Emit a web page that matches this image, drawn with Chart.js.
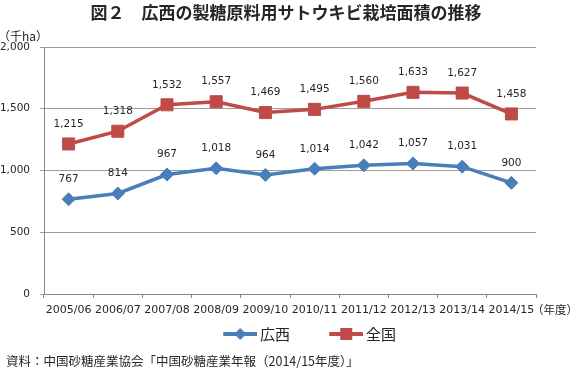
<!DOCTYPE html>
<html><head><meta charset="utf-8">
<script src="https://cdn.jsdelivr.net/npm/chart.js@4/dist/chart.umd.min.js"></script>
<style>html,body{margin:0;padding:0;background:#fff}canvas{display:block}</style>
</head><body>
<canvas id="c" width="572" height="368"></canvas>
<script>
// ---- data ----
const categories = ['2005/06','2006/07','2007/08','2008/09','2009/10','2010/11','2011/12','2012/13','2013/14','2014/15'];
const guangxi = [767, 814, 967, 1018, 964, 1014, 1042, 1057, 1031, 900];
const national = [1215, 1318, 1532, 1557, 1469, 1495, 1560, 1633, 1627, 1458];
const yTickValues = [0, 500, 1000, 1500, 2000];
const seriesNames = ['広西', '全国'];
const titleText = '図２　広西の製糖原料用サトウキビ栽培面積の推移';
const yUnitText = '（千ha）';
const xUnitText = '（年度）';
const sourceText = '資料：中国砂糖産業協会「中国砂糖産業年報（2014/15年度）」';

// ---- styles ----
const BLUE = '#4A7EBB', RED = '#BE4B48';
const AXIS = '#878787', GRID = '#9d9d9d', TEXT = '#262626';
const CJK = "'Noto Sans CJK JP', 'Noto Sans', sans-serif";
const NUM = "'DejaVu Sans', sans-serif";

function legendImage(color, shape) {
  const W = 78, H = 14;
  const c = document.createElement('canvas');
  c.width = W; c.height = H;
  const g = c.getContext('2d');
  const x0 = W - 34, cy = H / 2;
  g.strokeStyle = color; g.lineWidth = 4;
  g.beginPath(); g.moveTo(x0, cy); g.lineTo(W, cy); g.stroke();
  g.fillStyle = color;
  const cx = x0 + 17;
  if (shape === 'diamond') {
    g.beginPath(); g.moveTo(cx, cy - 6); g.lineTo(cx + 6, cy); g.lineTo(cx, cy + 6); g.lineTo(cx - 6, cy); g.closePath(); g.fill();
  } else {
    g.fillRect(cx - 6, cy - 6, 12, 12);
  }
  return c;
}
const legendImgs = [legendImage(BLUE, 'diamond'), legendImage(RED, 'square')];

const fmt = v => v.toLocaleString('en-US');

const extras = {
  id: 'extras',
  afterDatasetsDraw(chart) {
    const ctx = chart.ctx;
    ctx.save();
    ctx.font = '10.5px ' + NUM;
    ctx.fillStyle = TEXT;
    ctx.textAlign = 'center';
    ctx.textBaseline = 'middle';
    chart.data.datasets.forEach((ds, i) => {
      const meta = chart.getDatasetMeta(i);
      meta.data.forEach((pt, j) => {
        ctx.fillText(fmt(ds.data[j]), pt.x, pt.y - 20);
      });
    });
    ctx.restore();
  },
  afterDraw(chart) {
    const ctx = chart.ctx;
    ctx.save();
    ctx.fillStyle = TEXT;
    ctx.textBaseline = 'middle';
    ctx.font = 'bold 17px ' + CJK;
    ctx.textAlign = 'center';
    ctx.fillText(titleText, 286, 13);
    ctx.textAlign = 'left';
    ctx.font = '12px ' + CJK;
    ctx.fillText(yUnitText, -2, 36);
    ctx.font = '11.5px ' + CJK;
    ctx.fillText(xUnitText, 532, 310);
    ctx.font = '12.5px ' + CJK;
    ctx.fillText(sourceText, 6, 361);
    ctx.restore();
  }
};

new Chart(document.getElementById('c'), {
  type: 'line',
  data: {
    labels: categories,
    datasets: [
      { label: seriesNames[0], data: guangxi, borderColor: BLUE, backgroundColor: BLUE,
        borderWidth: 3.5, pointStyle: 'rectRot', pointRadius: 6.5, pointBorderWidth: 1,
        pointBackgroundColor: BLUE, pointBorderColor: BLUE, tension: 0 },
      { label: seriesNames[1], data: national, borderColor: RED, backgroundColor: RED,
        borderWidth: 3.5, pointStyle: 'rect', pointRadius: 8.5, pointBorderWidth: 1,
        pointBackgroundColor: RED, pointBorderColor: RED, tension: 0 }
    ]
  },
  options: {
    responsive: false, animation: false, devicePixelRatio: 1,
    layout: { padding: { left: 0, right: 36, top: 47, bottom: 16.5 } },
    scales: {
      x: {
        offset: true,
        grid: { display: true, drawOnChartArea: false, drawTicks: true, tickLength: 4, offset: true, color: AXIS, lineWidth: 1 },
        border: { display: true, color: AXIS, width: 1 },
        ticks: { color: TEXT, font: { family: NUM, size: 11 }, padding: 6, maxRotation: 0, autoSkip: false },
        afterFit: s => { s.height = 32.5; }
      },
      y: {
        min: 0, max: 2000,
        afterBuildTicks: s => { s.ticks = yTickValues.map(v => ({ value: v })); },
        grid: { color: GRID, lineWidth: 1, tickLength: 4, drawTicks: true },
        border: { display: true, color: AXIS, width: 1 },
        ticks: { color: TEXT, font: { family: NUM, size: 10.5 }, padding: 10, callback: v => fmt(v) },
        afterFit: s => { s.width = 44; }
      }
    },
    plugins: {
      title: { display: false },
      tooltip: { enabled: false },
      legend: {
        display: true, position: 'bottom', fullSize: false, align: 'center',
        labels: {
          usePointStyle: true, pointStyleWidth: 68.5, padding: 0,
          color: TEXT, font: { family: CJK, size: 15 },
          generateLabels: chart => chart.data.datasets.map((ds, i) => ({
            text: ds.label, pointStyle: legendImgs[i], fillStyle: ds.borderColor,
            strokeStyle: ds.borderColor, lineWidth: 0, hidden: false, datasetIndex: i, fontColor: TEXT
          }))
        }
      }
    }
  },
  plugins: [extras]
});
</script>
</body></html>
